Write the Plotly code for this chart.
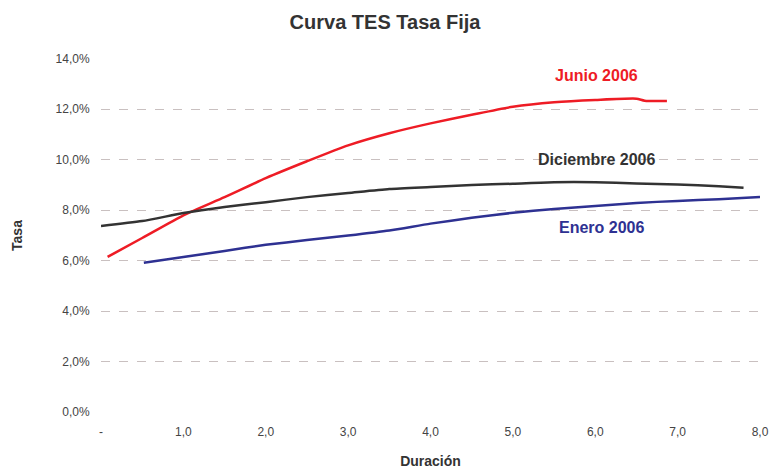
import plotly.graph_objects as go

# Curva TES Tasa Fija - duration (years) vs rate
junio_x = [0.08, 0.5, 1.0, 1.5, 2.0, 2.5, 3.0, 3.5, 4.0, 4.5, 5.0, 5.5, 6.0, 6.5, 6.6, 6.87]
junio_y = [0.0615, 0.0690, 0.0780, 0.0852, 0.0927, 0.0994, 0.1057, 0.1105, 0.1144, 0.1178,
           0.1210, 0.1228, 0.1237, 0.1242, 0.1234, 0.1233]

diciembre_x = [0.0, 0.5, 1.0, 1.5, 2.0, 2.5, 3.0, 3.5, 4.0, 4.5, 5.0, 5.5, 6.0, 6.5, 7.0, 7.5, 7.8]
diciembre_y = [0.0738, 0.0757, 0.0789, 0.0813, 0.0832, 0.0852, 0.0868, 0.0884, 0.0892, 0.0900,
               0.0905, 0.0911, 0.0911, 0.0906, 0.0902, 0.0895, 0.0889]

enero_x = [0.52, 1.0, 1.5, 2.0, 2.5, 3.0, 3.5, 4.0, 4.5, 5.0, 5.5, 6.0, 6.5, 7.0, 7.5, 8.0]
enero_y = [0.0592, 0.0615, 0.0639, 0.0663, 0.0682, 0.0700, 0.0720, 0.0747, 0.0770, 0.0790,
           0.0805, 0.0817, 0.0829, 0.0837, 0.0844, 0.0852]

x_ticks = [0, 1, 2, 3, 4, 5, 6, 7, 8]
x_tick_labels = ["-", "1,0", "2,0", "3,0", "4,0", "5,0", "6,0", "7,0", "8,0"]

RED = "#ee1c25"
DARK = "#333333"
BLUE = "#2e3192"
SANS = "Liberation Sans, Arial, sans-serif"

fig = go.Figure()
for xs, ys, col in [(junio_x, junio_y, RED), (diciembre_x, diciembre_y, DARK), (enero_x, enero_y, BLUE)]:
    fig.add_trace(go.Scatter(x=xs, y=ys, mode="lines",
                             line=dict(color=col, width=2.5, shape="spline", smoothing=0.6)))

fig.add_annotation(x=6.02, y=0.1333, text="<b>Junio 2006</b>", showarrow=False,
                   font=dict(family=SANS, size=16, color=RED))
fig.add_annotation(x=6.02, y=0.1002, text="<b>Diciembre 2006</b>", showarrow=False,
                   font=dict(family=SANS, size=16, color=DARK))
fig.add_annotation(x=6.07, y=0.0730, text="<b>Enero 2006</b>", showarrow=False,
                   font=dict(family=SANS, size=16, color=BLUE))

fig.update_layout(
    width=770, height=470,
    template="plotly_white",
    separators=",.",
    showlegend=False,
    paper_bgcolor="white",
    plot_bgcolor="white",
    font=dict(family=SANS, size=12, color="#333333"),
    title=dict(text="<b>Curva TES Tasa Fija</b>", x=0.5, xanchor="center",
               yref="container", y=0.953, yanchor="middle",
               font=dict(family=SANS, size=20, color="#333333")),
    margin=dict(l=101, r=10, t=58, b=57),
)
fig.update_xaxes(
    range=[0, 8], tickvals=x_ticks, ticktext=x_tick_labels, automargin=False,
    showgrid=False, zeroline=False, showline=False,
    ticks="outside", ticklen=8, tickcolor="rgba(0,0,0,0)",
    tickfont=dict(size=12, color="#444444"),
    title=dict(text="<b>Duración</b>", font=dict(family=SANS, size=14, color="#333333"),
               standoff=17),
)
fig.update_yaxes(
    range=[-0.0003, 0.1403], tickvals=[0, 0.02, 0.04, 0.06, 0.08, 0.10, 0.12, 0.14],
    tickformat=".1%", automargin=False,
    showgrid=True, gridcolor="#c9c0c0", griddash="dash", gridwidth=1,
    zeroline=False, showline=False,
    ticks="outside", ticklen=8, tickcolor="rgba(0,0,0,0)",
    tickfont=dict(size=12, color="#444444"),
    title=dict(text="<b>Tasa</b>", font=dict(family=SANS, size=14, color="#333333"),
               standoff=29),
)

# drop the default page margin so the 770x470 figure fills the window exactly
fig.write_html("out.html", config={"displayModeBar": False},
               post_script="document.body.style.margin='0';")
